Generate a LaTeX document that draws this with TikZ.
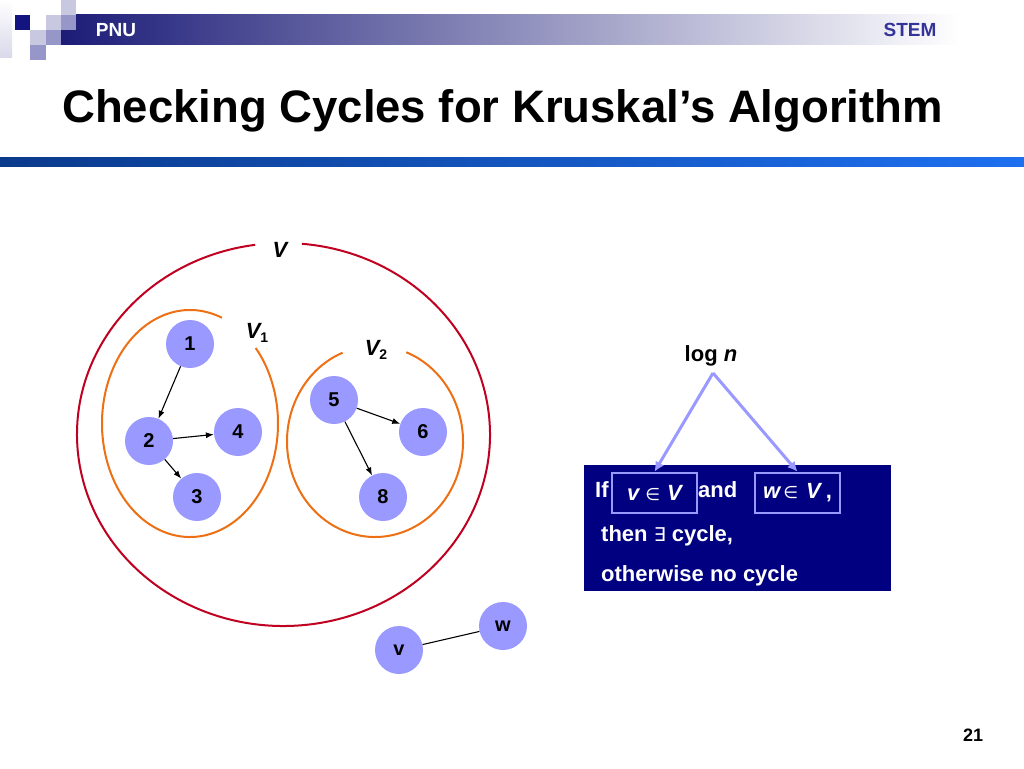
\documentclass[tikz,border=0pt]{standalone}
\usepackage{fontspec}
\setmainfont{Liberation Sans}
\newfontfamily\djv{DejaVu Sans}
\usetikzlibrary{arrows.meta}
\definecolor{navyx}{RGB}{0,0,128}
\definecolor{lav}{RGB}{153,153,255}
\definecolor{redv}{RGB}{192,0,32}
\definecolor{orng}{RGB}{237,112,20}
\definecolor{barnavy}{RGB}{28,28,120}
\definecolor{stemc}{RGB}{51,51,153}
\definecolor{lineL}{RGB}{10,58,140}
\definecolor{lineR}{RGB}{30,112,240}
\definecolor{sqdark}{RGB}{20,20,128}
\definecolor{sqmed}{RGB}{150,150,200}
\definecolor{sqlight}{RGB}{200,200,225}
\newcommand\fsz[1]{\fontsize{#1}{#1}\selectfont}
\newcommand\subs[1]{\raisebox{-4pt}{\fsz{14}\upshape #1}}
\begin{document}
\begin{tikzpicture}[x=1pt,y=-1pt,
  vert/.style={circle, fill=lav, minimum size=48pt, inner sep=0pt, font=\fsz{20}\bfseries},
  edge/.style={line width=1.1pt, -{Latex[length=8pt,width=6pt]}},
  lbl/.style={font=\fsz{22}\bfseries\itshape, inner sep=0pt},
  boxtxt/.style={text=white, font=\fsz{22}\bfseries, inner sep=0pt, anchor=base west},
  inbox/.style={draw=lav, line width=2.5pt, minimum width=85pt, minimum height=40pt, inner sep=0pt, text=white, font=\fsz{22}\bfseries},
  lavarrow/.style={draw=lav, line width=3pt, -{Latex[length=10pt,width=10pt]}},
  hdr/.style={font=\fsz{19}\bfseries, inner sep=0pt}]
\useasboundingbox (0,0) rectangle (1024,768);
\fill[white] (0,0) rectangle (1024,768);
% header decoration
\shade[top color=white, bottom color=sqlight!70] (0,0) rectangle (12,58);
\shade[left color=barnavy, right color=white] (61,15) rectangle (960,45);
\fill[sqdark] (15,15) rectangle (30,30);
\fill[sqlight] (46,15) rectangle (61,30);
\fill[sqlight] (61,0) rectangle (76,15);
\fill[sqmed] (61,15) rectangle (76,30);
\fill[sqlight] (30,30) rectangle (46,45);
\fill[sqmed] (46,30) rectangle (61,45);
\fill[sqmed] (30,45) rectangle (46,60);
\node[hdr, text=white] (pnu) at (116,30) {PNU};
\node[hdr, text=stemc] (stem) at (910,30) {STEM};
\node[anchor=base west, inner sep=0pt, font=\fsz{45.5}\bfseries] (title) at (62,122) {Checking Cycles for Kruskal’s Algorithm};
\shade[left color=lineL, right color=lineR] (0,157) rectangle (1024,166);
% sets
\draw[redv, line width=2pt] (283.5,434.5) ++(97.9:206.5pt and 191.5pt) arc[start angle=97.9, end angle=444.9, x radius=206.5pt, y radius=191.5pt];
\draw[orng, line width=2pt] (190,423.5) ++(68.7:88pt and 113.5pt) arc[start angle=68.7, end angle=401.7, x radius=88pt, y radius=113.5pt];
\draw[orng, line width=2pt] (375,441.5) ++(111.6:88pt and 95.5pt) arc[start angle=111.6, end angle=429.2, x radius=88pt, y radius=95.5pt];
\node[lbl] (lV) at (280,250) {V};
\node[lbl] (lV1) at (257,333) {V\subs{1}};
\node[lbl] (lV2) at (376,350) {V\subs{2}};
% vertices
\node[vert] (n1) at (190,344) {1};
\node[vert] (n2) at (149,441) {2};
\node[vert] (n4) at (238,432) {4};
\node[vert] (n3) at (197,497) {3};
\node[vert] (n5) at (334,400) {5};
\node[vert] (n6) at (423,432) {6};
\node[vert] (n8) at (383,497) {8};
\node[vert] (nv) at (399,650) {v};
\node[vert] (nw) at (503,626) {w};
\draw[edge] (n1) -- (n2);
\draw[edge] (n2) -- (n4);
\draw[edge] (n2) -- (n3);
\draw[edge] (n5) -- (n6);
\draw[edge] (n5) -- (n8);
\draw[line width=1.1pt] (nv) -- (nw);
% right box
\node[fill=navyx, minimum width=307pt, minimum height=126pt, inner sep=0pt] (box) at (737.5,528) {};
\node[boxtxt] (tif) at (595,497) {If};
\node[inbox] (vbox) at (654.5,493) {{\itshape v}\hspace{6pt}{\djv\mdseries\fsz{17}∈}\hspace{7pt}{\itshape V}};
\node[boxtxt] (tand) at (698,497) {and};
\node[inbox] (wbox) at (797.5,493) {{\itshape w}\hspace{3pt}{\djv\mdseries\fsz{17}∈}\hspace{8pt}{\itshape V}\hspace{5pt},};
\node[boxtxt] (tthen) at (601,541) {then {\djv\mdseries\fsz{19}∃} cycle,};
\node[boxtxt] (tother) at (601,581) {otherwise no cycle};
\node[font=\fsz{22}\bfseries, inner sep=0pt] (logn) at (711,356) {log {\itshape n}};
\coordinate (apex) at (713,373);
\draw[lavarrow] (apex) -- (vbox.north);
\draw[lavarrow] (apex) -- (wbox.north);
\node[font=\fsz{18}\bfseries, inner sep=0pt] (pg) at (973,735) {21};
\end{tikzpicture}
\end{document}
